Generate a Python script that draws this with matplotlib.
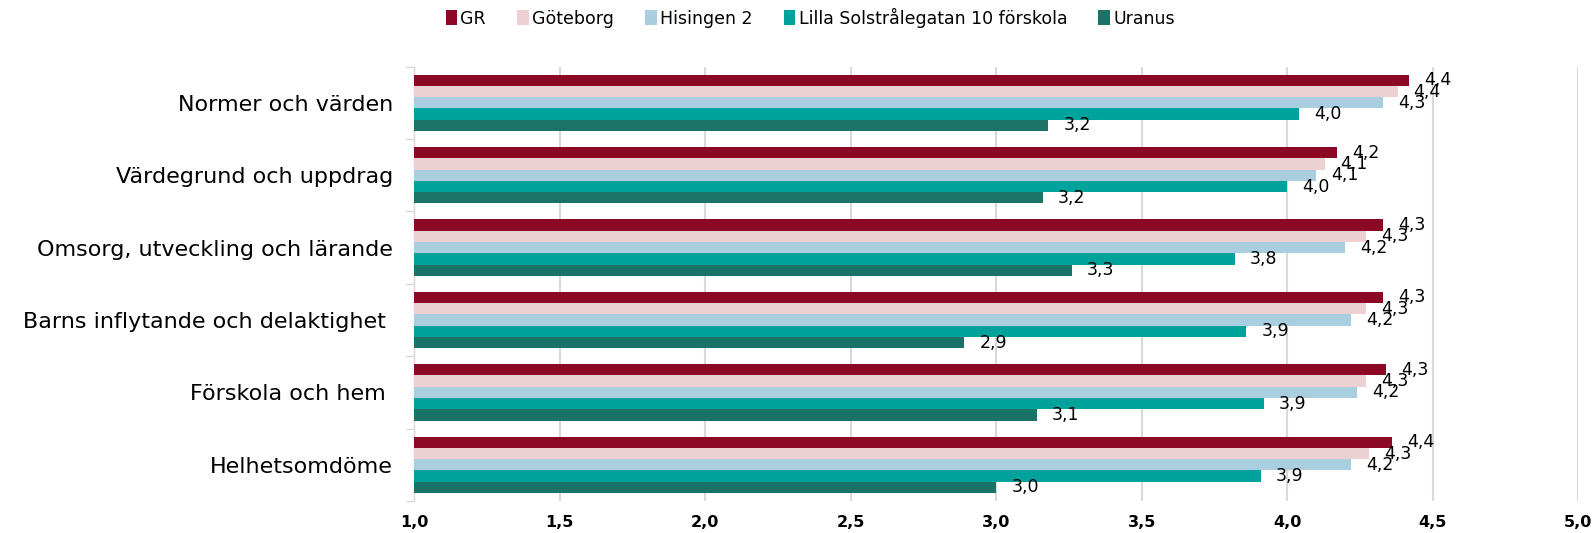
import numpy as np
import matplotlib
matplotlib.use("Agg")
import matplotlib.pyplot as plt

# data
categories = [
    "Normer och värden",
    "Värdegrund och uppdrag",
    "Omsorg, utveckling och lärande",
    "Barns inflytande och delaktighet ",
    "Förskola och hem ",
    "Helhetsomdöme",
]
series_names = ["GR", "Göteborg", "Hisingen 2", "Lilla Solstrålegatan 10 förskola", "Uranus"]
gr = [4.42, 4.17, 4.33, 4.33, 4.34, 4.36]
goteborg = [4.38, 4.13, 4.27, 4.27, 4.27, 4.28]
hisingen = [4.33, 4.10, 4.20, 4.22, 4.24, 4.22]
lilla = [4.04, 4.00, 3.82, 3.86, 3.92, 3.91]
uranus = [3.18, 3.16, 3.26, 2.89, 3.14, 3.00]
xticks = [1.0, 1.5, 2.0, 2.5, 3.0, 3.5, 4.0, 4.5, 5.0]

colors = ["#8C0925", "#ECD0D2", "#A9CEE0", "#00A39B", "#1B7368"]
all_series = [gr, goteborg, hisingen, lilla, uranus]

fig = plt.figure(figsize=(15.95, 5.33), dpi=100)
ax = fig.add_axes([0.2596, 0.060, 0.7298, 0.815])

y = np.arange(len(categories))
h = 0.156
for i, (name, vals, c) in enumerate(zip(series_names, all_series, colors)):
    bars = ax.barh(y + (i - 2) * h, vals, height=h, color=c, label=name, zorder=3)
    ax.bar_label(bars, labels=[f"{v:.1f}".replace(".", ",") for v in vals],
                 padding=11, fontsize=12.5, color="black", zorder=4)

ax.set_xlim(1, 5)
ax.set_ylim(len(categories) - 0.5, -0.5)
ax.set_xticks(xticks)
ax.set_xticklabels([f"{t:.1f}".replace(".", ",") for t in xticks], fontsize=11.5, fontweight="bold")
ax.set_yticks(y)
ax.set_yticklabels(categories, fontsize=16)
ax.set_yticks(np.arange(-0.5, len(categories)), minor=True)

ax.tick_params(axis="x", length=0, pad=10)
ax.tick_params(axis="y", which="major", length=0, pad=15)
ax.tick_params(axis="y", which="minor", length=6, color="#d9d9d9", width=1)

ax.grid(axis="x", color="#d9d9d9", linewidth=1.5, zorder=0)
for s in ["top", "right", "bottom"]:
    ax.spines[s].set_visible(False)
ax.spines["left"].set_color("#d9d9d9")
ax.spines["left"].set_linewidth(1)

fig.legend(loc="center", bbox_to_anchor=(0.508, 0.967), ncol=5, frameon=False,
           fontsize=12.5, handlelength=0.65, handleheight=0.9, handletextpad=0.2,
           columnspacing=1.8)

fig.savefig("out.png", dpi=100)
